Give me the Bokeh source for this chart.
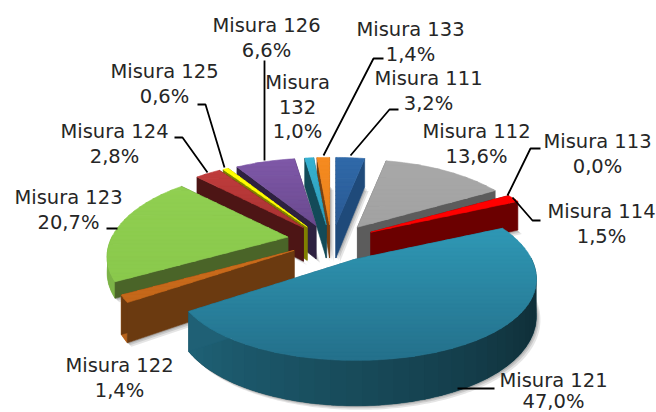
import math
from bokeh.plotting import figure
from bokeh.models import ColumnDataSource
from bokeh.core.properties import value
from bokeh.embed import file_html
from bokeh.resources import INLINE

categories = ["Misura 111", "Misura 112", "Misura 113", "Misura 114", "Misura 121", "Misura 122",
              "Misura 123", "Misura 124", "Misura 125", "Misura 126", "Misura 132", "Misura 133"]
shares = [3.2, 13.6, 0.0, 1.5, 47.0, 1.4, 20.7, 2.8, 0.6, 6.6, 1.0, 1.4]
explode = [1.0, 1.0, 1.0, 1.0, 1.12, 1.0, 1.0, 1.0, 1.0, 1.0, 1.0, 1.0]
thickness = [1.0, 1.0, 1.0, 0.9, 1.0, 1.0, 0.42, 1.0, 1.0, 1.0, 1.0, 1.0]

# (top colour upper, top colour lower, radial wall colour, outer wall colour left, outer wall colour right)
styles = [
    ("#3069a9", "#2a5a93", "#1f4a7a", "#1f4a7a", "#1f4a7a"),
    ("#a8a8a8", "#a2a2a2", "#5c5c5c", "#5c5c5c", "#5c5c5c"),
    ("#ff0000", "#ff0000", "#6b0000", "#6b0000", "#6b0000"),
    ("#ff0000", "#ff0000", "#6b0000", "#6b0000", "#6b0000"),
    ("#2f98b5", "#24708b", "#1f6075", "#1f6378", "#10303a"),
    ("#cc6d1c", "#c4671a", "#6b3a10", "#b8641c", "#b8641c"),
    ("#90cf51", "#8ac94c", "#4a6428", "#7cb347", "#7cb347"),
    ("#c03c3c", "#a83232", "#4d1515", "#4d1515", "#4d1515"),
    ("#ffff00", "#ffff00", "#808000", "#808000", "#808000"),
    ("#7f58a8", "#6a4a8f", "#2e2140", "#2e2140", "#2e2140"),
    ("#36b2d2", "#2f9cb8", "#134a58", "#134a58", "#134a58"),
    ("#f68b20", "#e8801c", "#7a4010", "#7a4010", "#7a4010"),
]

# label centres in page pixels and the distance between their lines
label_pos = [(428, 78), (476, 131), (597, 141), (601, 211), (553, 380), (119, 365),
             (68, 197), (114, 131), (164, 71), (266, 25), (297, 82), (410, 29)]
line_steps = [24.5, 24.5, 24.5, 24.5, 21.0, 24.5, 24.5, 24.5, 24.5, 24.5, 24.5, 24.5]

leaders = [
    ([398, 389, 350], [109, 109, 155]),
    ([], []),
    ([540, 530, 507], [148, 148, 195]),
    ([540, 532, 512], [220, 220, 197]),
    ([457, 494], [388, 388]),
    ([], []),
    ([106, 117], [228, 228]),
    ([174, 182, 207], [137, 137, 172]),
    ([197, 205, 224], [104, 104, 167]),
    ([264, 264], [60, 160]),
    ([], []),
    ([383, 373, 323], [58, 58, 155]),
]

CX, CY = 331.0, 239.0
A0, B0, P, P_FRONT = 176.0, 83.0, 0.23, 0.18
EXPLODE_X, EXPLODE_Y = 44.0, 18.0
THICK = 35.0


def rim(theta, ax, ay):
    u, v = math.sin(theta), math.cos(theta)
    w = 1 + P * v
    wy = w if v >= 0 else 1 + P_FRONT * v
    return ax + A0 * u / w, ay - B0 * v / wy, THICK / w


def lerp_hex(c1, c2, t):
    a = [int(c1[i:i + 2], 16) for i in (1, 3, 5)]
    b = [int(c2[i:i + 2], 16) for i in (1, 3, 5)]
    return "#%02x%02x%02x" % tuple(round(a[i] + (b[i] - a[i]) * t) for i in range(3))


def clip_y(pts, lo, hi):
    def clip(pts, keep, cross):
        out = []
        for i in range(len(pts)):
            a, b = pts[i], pts[(i + 1) % len(pts)]
            if keep(a):
                out.append(a)
            if keep(a) != keep(b):
                t = (cross - a[1]) / (b[1] - a[1])
                out.append((a[0] + t * (b[0] - a[0]), cross))
        return out
    pts = clip(pts, lambda q: q[1] >= lo, lo)
    if pts:
        pts = clip(pts, lambda q: q[1] <= hi, hi)
    return pts


total = sum(shares)
shadow_x, shadow_y, shadow_a = [], [], []
xs, ys, cols, lws = [], [], [], []


def add(pts, col, lw=0.6):
    xs.append([q[0] for q in pts])
    ys.append([q[1] for q in pts])
    cols.append(col)
    lws.append(lw)


slices = []
acc = 0.0
for i, s in enumerate(shares):
    t0 = acc / total * 2 * math.pi
    acc += s
    t1 = acc / total * 2 * math.pi
    if s > 0:
        slices.append((math.cos((t0 + t1) / 2), i, t0, t1))

for _, i, t0, t1 in sorted(slices, key=lambda q: -q[0]):
    mid = (t0 + t1) / 2
    mu, mv = math.sin(mid), math.cos(mid)
    ax = CX + EXPLODE_X * explode[i] * mu
    ay = CY - EXPLODE_Y * mv / (1 + P * mv)
    th_a = thickness[i] * THICK / (1 + P * 0.25 * mv)
    top_c, low_c, wall_c, arc_l, arc_r = styles[i]
    n = max(2, int(math.degrees(t1 - t0)))
    angles = [t0 + (t1 - t0) * k / n for k in range(n + 1)]
    outer = [(q[0], q[1], q[2] * thickness[i]) for q in (rim(t, ax, ay) for t in angles)]

    bottom = [(ax, ay + th_a)] + [(q[0], q[1] + q[2]) for q in outer]
    for off, alpha in ((4.0, 0.16), (2.5, 0.2), (1.2, 0.25)):
        shadow_x.append([q[0] + off for q in bottom])
        shadow_y.append([q[1] + off for q in bottom])
        shadow_a.append(alpha)

    # outer wall, front part only: a base piece, then overlapping shaded pieces
    front = [k for k in range(n + 1) if math.cos(angles[k]) < 0.02]
    if len(front) > 1:
        ring = [outer[k] for k in front]
        add([(q[0], q[1]) for q in ring] + [(q[0], q[1] + q[2]) for q in reversed(ring)],
            lerp_hex(arc_l, arc_r, 0.5), 0.5)
        pieces = list(range(front[0], front[-1], 4))
        for k in sorted(pieces, key=lambda k: -angles[k]):
            j = min(k + 5, front[-1])
            f = max(0.0, min(1.0, (angles[k] - math.radians(235)) / math.radians(-120)))
            seg = outer[k:j + 1]
            add([(q[0], q[1]) for q in seg] + [(q[0], q[1] + q[2]) for q in reversed(seg)],
                lerp_hex(arc_l, arc_r, f), 0.0)

    walls = []
    for q in (outer[0], outer[-1]):
        walls.append(((ay + q[1]) / 2, [(ax, ay), (q[0], q[1]), (q[0], q[1] + q[2]), (ax, ay + th_a)]))
    for _, poly in sorted(walls, key=lambda w: w[0]):
        add(poly, wall_c)

    face = [(ax, ay)] + [(q[0], q[1]) for q in outer]
    ymin, ymax = min(q[1] for q in face), max(q[1] for q in face)
    steps = max(1, int((ymax - ymin) / 4))
    for k in range(steps):
        lo = ymin + (ymax - ymin) * k / steps
        hi = ymin + (ymax - ymin) * (k + 1) / steps
        band = clip_y(face, lo - 0.3, hi + 0.3)
        if len(band) >= 3:
            add(band, lerp_hex(top_c, low_c, (k + 0.5) / steps))

p = figure(width=656, height=412, x_range=(0, 656), y_range=(412, 0), output_backend="svg",
           toolbar_location=None, min_border=0, outline_line_color=None)
p.xaxis.visible = False
p.yaxis.visible = False
p.grid.visible = False
p.background_fill_color = "white"

p.patches(shadow_x, shadow_y, fill_color="#606060", fill_alpha=shadow_a, line_color=None)
p.patches("x", "y", fill_color="c", line_color="c", line_width="w",
          source=ColumnDataSource(dict(x=xs, y=ys, c=cols, w=lws)))

p.multi_line([l[0] for l in leaders if l[0]], [l[1] for l in leaders if l[0]],
             line_color="#000000", line_width=1.8)

tx, ty, tt = [], [], []
for cat, s, (lx, ly), step in zip(categories, shares, label_pos, line_steps):
    pct = f"{s:.1f}%".replace(".", ",")
    lines = [cat, pct] if cat != "Misura 132" else cat.split(" ") + [pct]
    for k, t in enumerate(lines):
        tx.append(lx)
        ty.append(ly + k * step)
        tt.append(t)

p.text(tx, ty, text=tt, text_font=value("DejaVu Sans"), text_font_size="19.5px",
       text_color="#262626", text_align="center", text_baseline="middle")

open("out.html", "w").write(file_html(p, INLINE))
